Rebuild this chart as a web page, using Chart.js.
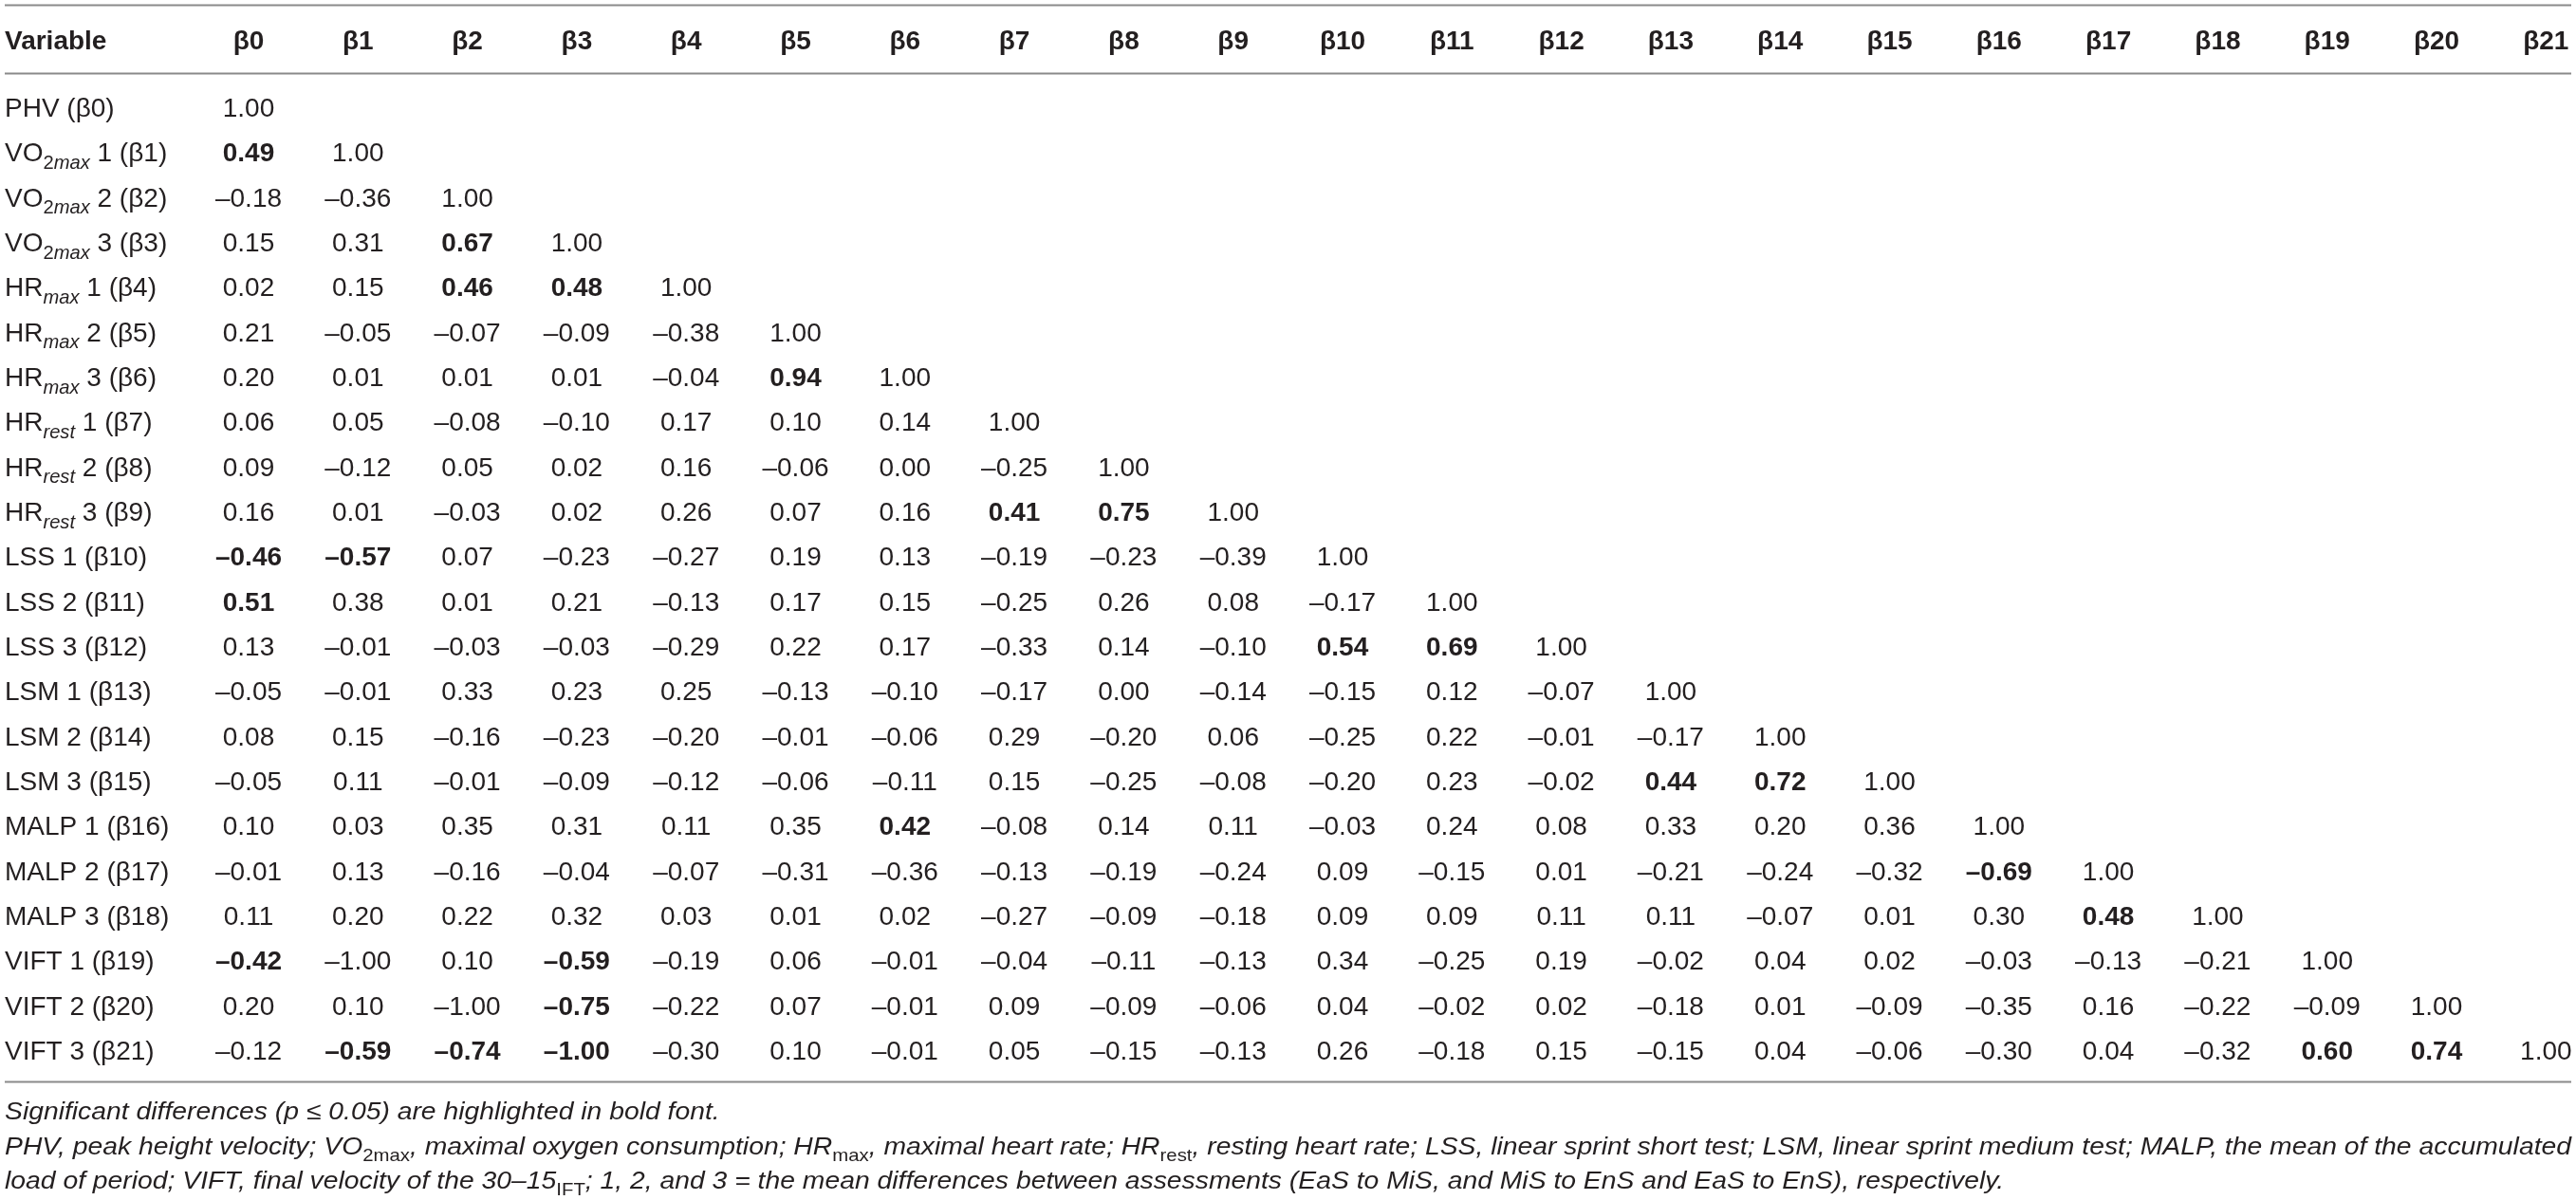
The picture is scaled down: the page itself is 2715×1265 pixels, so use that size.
<!DOCTYPE html>
<html>
<head>
<meta charset="utf-8">
<script src="https://cdn.jsdelivr.net/npm/chart.js@4.4.1/dist/chart.umd.min.js"></script>
<style>
html,body{margin:0;padding:0;background:#fff;}
canvas{display:block;}
</style>
</head>
<body>
<canvas id="corrChart" width="2715" height="1265"></canvas>
<script>

// column headers
const colLabels = ["β0","β1","β2","β3","β4","β5","β6","β7","β8","β9","β10",
  "β11","β12","β13","β14","β15","β16","β17","β18","β19","β20","β21"];

// row labels: {..} = upright subscript, [..] = italic subscript
const rowLabels = [
  "PHV (β0)",
  "VO{2}[max] 1 (β1)", "VO{2}[max] 2 (β2)", "VO{2}[max] 3 (β3)",
  "HR[max] 1 (β4)", "HR[max] 2 (β5)", "HR[max] 3 (β6)",
  "HR[rest] 1 (β7)", "HR[rest] 2 (β8)", "HR[rest] 3 (β9)",
  "LSS 1 (β10)", "LSS 2 (β11)", "LSS 3 (β12)",
  "LSM 1 (β13)", "LSM 2 (β14)", "LSM 3 (β15)",
  "MALP 1 (β16)", "MALP 2 (β17)", "MALP 3 (β18)",
  "VIFT 1 (β19)", "VIFT 2 (β20)", "VIFT 3 (β21)"
];

// lower triangle, one array per row
const phv      = [1.00];
const vo2max1  = [0.49, 1.00];
const vo2max2  = [-0.18, -0.36, 1.00];
const vo2max3  = [0.15, 0.31, 0.67, 1.00];
const hrMax1   = [0.02, 0.15, 0.46, 0.48, 1.00];
const hrMax2   = [0.21, -0.05, -0.07, -0.09, -0.38, 1.00];
const hrMax3   = [0.20, 0.01, 0.01, 0.01, -0.04, 0.94, 1.00];
const hrRest1  = [0.06, 0.05, -0.08, -0.10, 0.17, 0.10, 0.14, 1.00];
const hrRest2  = [0.09, -0.12, 0.05, 0.02, 0.16, -0.06, 0.00, -0.25, 1.00];
const hrRest3  = [0.16, 0.01, -0.03, 0.02, 0.26, 0.07, 0.16, 0.41, 0.75, 1.00];
const lss1     = [-0.46, -0.57, 0.07, -0.23, -0.27, 0.19, 0.13, -0.19, -0.23, -0.39, 1.00];
const lss2     = [0.51, 0.38, 0.01, 0.21, -0.13, 0.17, 0.15, -0.25, 0.26, 0.08, -0.17, 1.00];
const lss3     = [0.13, -0.01, -0.03, -0.03, -0.29, 0.22, 0.17, -0.33, 0.14, -0.10, 0.54, 0.69, 1.00];
const lsm1     = [-0.05, -0.01, 0.33, 0.23, 0.25, -0.13, -0.10, -0.17, 0.00, -0.14, -0.15, 0.12, -0.07, 1.00];
const lsm2     = [0.08, 0.15, -0.16, -0.23, -0.20, -0.01, -0.06, 0.29, -0.20, 0.06, -0.25, 0.22, -0.01, -0.17, 1.00];
const lsm3     = [-0.05, 0.11, -0.01, -0.09, -0.12, -0.06, -0.11, 0.15, -0.25, -0.08, -0.20, 0.23, -0.02, 0.44, 0.72, 1.00];
const malp1    = [0.10, 0.03, 0.35, 0.31, 0.11, 0.35, 0.42, -0.08, 0.14, 0.11, -0.03, 0.24, 0.08, 0.33, 0.20, 0.36, 1.00];
const malp2    = [-0.01, 0.13, -0.16, -0.04, -0.07, -0.31, -0.36, -0.13, -0.19, -0.24, 0.09, -0.15, 0.01, -0.21, -0.24, -0.32, -0.69, 1.00];
const malp3    = [0.11, 0.20, 0.22, 0.32, 0.03, 0.01, 0.02, -0.27, -0.09, -0.18, 0.09, 0.09, 0.11, 0.11, -0.07, 0.01, 0.30, 0.48, 1.00];
const vift1    = [-0.42, -1.00, 0.10, -0.59, -0.19, 0.06, -0.01, -0.04, -0.11, -0.13, 0.34, -0.25, 0.19, -0.02, 0.04, 0.02, -0.03, -0.13, -0.21, 1.00];
const vift2    = [0.20, 0.10, -1.00, -0.75, -0.22, 0.07, -0.01, 0.09, -0.09, -0.06, 0.04, -0.02, 0.02, -0.18, 0.01, -0.09, -0.35, 0.16, -0.22, -0.09, 1.00];
const vift3    = [-0.12, -0.59, -0.74, -1.00, -0.30, 0.10, -0.01, 0.05, -0.15, -0.13, 0.26, -0.18, 0.15, -0.15, 0.04, -0.06, -0.30, 0.04, -0.32, 0.60, 0.74, 1.00];

const corrRows = [phv, vo2max1, vo2max2, vo2max3, hrMax1, hrMax2, hrMax3,
  hrRest1, hrRest2, hrRest3, lss1, lss2, lss3, lsm1, lsm2, lsm3,
  malp1, malp2, malp3, vift1, vift2, vift3];

// [row, col] of the values printed in bold (p <= 0.05)
const significant = [[1,0],[3,2],[4,2],[4,3],[6,5],[9,7],[9,8],[10,0],[10,1],
  [11,0],[12,10],[12,11],[15,13],[15,14],[16,6],[17,16],[18,17],
  [19,0],[19,3],[20,3],[21,1],[21,2],[21,3],[21,19],[21,20]];

const notes = [
  "Significant differences (p ≤ 0.05) are highlighted in bold font.",
  "PHV, peak height velocity; VO{2max}, maximal oxygen consumption; HR{max}, maximal heart rate; HR{rest}, resting heart rate; LSS, linear sprint short test; LSM, linear sprint medium test; MALP, the mean of the accumulated",
  "load of period; VIFT, final velocity of the 30–15{IFT}; 1, 2, and 3 = the mean differences between assessments (EaS to MiS, and MiS to EnS and EaS to EnS), respectively."
];


const FAMILY = "'Liberation Sans', Arial, sans-serif";
const INK = "#231f20";

function fmt(v){
  return (v < 0 ? "–" : "") + Math.abs(v).toFixed(2);
}

// draws text with {sub} / [italic sub] markup, returns width
function richText(ctx, text, x, y, size, italic, draw){
  const parts = text.split(/(\{[^}]*\}|\[[^\]]*\])/).filter(p => p.length);
  let cx = x;
  parts.forEach(p => {
    let s = p, sz = size, dy = 0, ital = italic;
    if(p[0] === "{"){ s = p.slice(1,-1); sz = size*0.72; dy = size*0.27; ital = false; }
    else if(p[0] === "["){ s = p.slice(1,-1); sz = size*0.72; dy = size*0.27; ital = true; }
    ctx.font = (ital ? "italic " : "") + "normal " + sz + "px " + FAMILY;
    if(draw) ctx.fillText(s, cx, y + dy);
    cx += ctx.measureText(s).width;
  });
  return cx - x;
}


const cells = [];
corrRows.forEach((row, r) => {
  row.forEach((v, c) => {
    cells.push({
      x: c,
      y: r,
      v: v,
      bold: significant.some(s => s[0] === r && s[1] === c)
    });
  });
});


const tablePlugin = {
  id: "tableText",
  afterDatasetsDraw(chart, args, opts){
    const ctx = chart.ctx;
    const xs = chart.scales.x;
    const ys = chart.scales.y;
    const left = chart.chartArea.left + 5;
    const right = chart.chartArea.right - 5;
    const size = opts.size;
    const lift = size*0.36;

    ctx.save();
    ctx.fillStyle = INK;

    // rules
    ctx.strokeStyle = "#8a8a8a";
    ctx.lineWidth = 2;
    [opts.topRule, opts.headRule, opts.bottomRule].forEach(v => {
      const py = Math.round(ys.getPixelForValue(v)) + 0.5;
      ctx.beginPath();
      ctx.moveTo(left, py);
      ctx.lineTo(right, py);
      ctx.stroke();
    });

    // header
    const hy = ys.getPixelForValue(opts.headerRow) + lift;
    ctx.font = "bold " + size + "px " + FAMILY;
    ctx.textAlign = "left";
    ctx.fillText("Variable", left, hy);
    ctx.textAlign = "center";
    colLabels.forEach((l, c) => {
      ctx.fillText(l, xs.getPixelForValue(c), hy);
    });

    // row labels
    ctx.textAlign = "left";
    rowLabels.forEach((l, r) => {
      richText(ctx, l, left, ys.getPixelForValue(r) + lift, size, false, true);
    });

    // cells
    ctx.textAlign = "center";
    const meta = chart.getDatasetMeta(0);
    meta.data.forEach((pt, i) => {
      const d = chart.data.datasets[0].data[i];
      ctx.font = (d.bold ? "bold " : "normal ") + size + "px " + FAMILY;
      ctx.fillText(fmt(d.v), pt.x, pt.y + lift);
    });

    // footnotes, italic, fitted to table width
    ctx.textAlign = "left";
    const ns = opts.noteSize;
    const full = richText(ctx, notes[1], 0, 0, ns, true, false);
    const k = (right - left) / full;
    notes.forEach((t, i) => {
      const py = ys.getPixelForValue(opts.noteRows[i]) + ns*0.36;
      ctx.save();
      ctx.translate(left, py);
      ctx.scale(k, 1);
      richText(ctx, t, 0, 0, ns, true, true);
      ctx.restore();
    });

    ctx.restore();
  }
};


new Chart(document.getElementById("corrChart"), {
  type: "scatter",
  data: {
    datasets: [{
      data: cells,
      pointRadius: 0,
      pointHoverRadius: 0
    }]
  },
  options: {
    responsive: false,
    animation: false,
    devicePixelRatio: 1,
    layout: { padding: 0 },
    events: [],
    scales: {
      x: { type: "linear", display: false, min: -2.2723, max: 21.2749 },
      y: { type: "linear", display: false, reverse: true, min: -2.387, max: 24.34 }
    },
    plugins: {
      legend: { display: false },
      tooltip: { enabled: false },
      tableText: {
        size: 28,
        noteSize: 26,
        headerRow: -1.5,
        topRule: -2.28,
        headRule: -0.76,
        bottomRule: 21.7,
        noteRows: [22.35, 23.12, 23.88]
      }
    }
  },
  plugins: [tablePlugin]
});

</script>
</body>
</html>
